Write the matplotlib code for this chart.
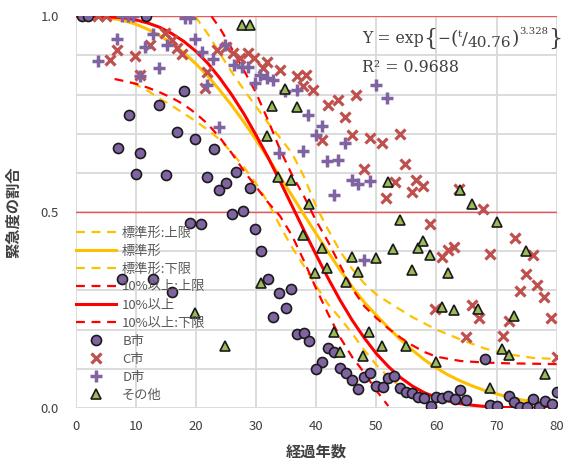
import matplotlib
matplotlib.use("Agg")
import matplotlib.pyplot as plt
from matplotlib.transforms import IdentityTransform

plt.rcParams['font.family'] = ['Noto Sans CJK JP', 'DejaVu Sans']

# ── fitted curves ────────────────────────────────────────────────────────────
red_t = list(range(0, 81, 2))
red_y = [1.000, 1.000, 1.000, 0.998, 0.996, 0.991, 0.983, 0.972, 0.956, 0.936,
         0.911, 0.880, 0.842, 0.799, 0.751, 0.697, 0.640, 0.579, 0.516, 0.453,
         0.391, 0.331, 0.275, 0.224, 0.179, 0.139, 0.106, 0.078, 0.056, 0.039,
         0.027, 0.018, 0.011, 0.007, 0.004, 0.002, 0.001, 0.001, 0.000, 0.000,
         0.000]
red_up_t = [22.6, 24, 26, 28, 30, 32, 34, 36, 38, 40, 42, 44, 46, 48, 50, 52,
            54, 56, 58, 60, 64, 68, 72, 76, 80]
red_up_y = [1.0, 0.97, 0.917, 0.862, 0.805, 0.735, 0.66, 0.595, 0.54, 0.478,
            0.424, 0.364, 0.305, 0.26, 0.23, 0.203, 0.18, 0.16, 0.143, 0.131,
            0.12, 0.116, 0.114, 0.113, 0.112]
red_lo_t = [6.5, 8, 10, 12, 14, 16, 18, 20, 22, 24, 26, 28, 30, 32, 34, 36, 38,
            40, 42, 44, 46, 48, 50, 52]
red_lo_y = [0.84, 0.835, 0.828, 0.818, 0.806, 0.792, 0.775, 0.752, 0.725, 0.69,
            0.65, 0.605, 0.565, 0.525, 0.49, 0.44, 0.375, 0.305, 0.24, 0.18,
            0.13, 0.09, 0.045, 0.005]

yel_t = list(range(0, 81, 2))
yel_y = [1.000, 1.000, 0.998, 0.995, 0.989, 0.980, 0.967, 0.951, 0.931, 0.907,
         0.879, 0.847, 0.811, 0.772, 0.730, 0.685, 0.639, 0.590, 0.542, 0.493,
         0.445, 0.398, 0.352, 0.309, 0.270, 0.237, 0.205, 0.175, 0.148, 0.123,
         0.102, 0.084, 0.069, 0.056, 0.045, 0.036, 0.028, 0.021, 0.016, 0.012,
         0.008]
yel_up_t = [19.9, 22, 24, 26, 28, 30, 32, 34, 36, 38, 40, 42, 44, 46, 48, 50,
            52, 56, 60, 64, 68, 72, 76, 80]
yel_up_y = [1.0, 0.955, 0.905, 0.857, 0.812, 0.77, 0.728, 0.69, 0.65, 0.59,
            0.515, 0.455, 0.40, 0.355, 0.318, 0.29, 0.27, 0.232, 0.20, 0.175,
            0.152, 0.137, 0.128, 0.125]
yel_lo_t = [9.5, 12, 14, 16, 18, 20, 22, 24, 26, 28, 30, 32, 34, 36, 38, 40,
            42, 44, 46, 48, 50, 52, 54, 56, 58, 60]
yel_lo_y = [0.83, 0.81, 0.79, 0.772, 0.752, 0.732, 0.71, 0.685, 0.652, 0.615,
            0.573, 0.525, 0.465, 0.41, 0.362, 0.312, 0.265, 0.229, 0.19, 0.148,
            0.11, 0.08, 0.055, 0.035, 0.018, 0.005]

# ── observed points ──────────────────────────────────────────────────────────
b_t = [1.0, 2.0, 11.8, 18.0, 13.8, 8.85, 16.9, 19.9, 7.0, 10.8, 23.0, 10.0,
       15.0, 21.8, 26.7, 25.0, 23.9, 29.0, 19.0, 20.9, 26.0, 27.8, 29.8, 30.8,
       32.0, 33.9, 35.8, 35.0, 32.9, 36.9, 38.0, 38.9, 7.8, 12.9, 16.0, 41.9,
       42.9, 41.0, 40.0, 44.0, 44.9, 46.0, 46.9, 48.0, 49.0, 49.9, 51.1, 51.9,
       52.9, 54.0, 54.9, 55.9, 57.0, 58.0, 59.1, 60.0, 61.0, 62.0, 63.1, 63.9,
       65.0, 68.1, 68.9, 70.0, 72.1, 72.9, 73.9, 75.0, 76.0, 77.1, 78.1, 79.2,
       80.0]
b_y = [1.0, 1.0, 1.0, 0.81, 0.774, 0.749, 0.704, 0.686, 0.663, 0.651, 0.662,
       0.598, 0.596, 0.59, 0.603, 0.574, 0.557, 0.561, 0.473, 0.469, 0.495,
       0.504, 0.456, 0.402, 0.329, 0.293, 0.304, 0.255, 0.233, 0.189, 0.191,
       0.171, 0.329, 0.329, 0.297, 0.154, 0.142, 0.118, 0.099, 0.101, 0.089,
       0.071, 0.048, 0.078, 0.089, 0.056, 0.054, 0.077, 0.082, 0.052, 0.042,
       0.038, 0.029, 0.025, 0.004, 0.029, 0.026, 0.031, 0.023, 0.045, 0.021,
       0.125, 0.008, 0.006, 0.031, 0.016, 0.002, 0.002, 0.022, 0.003, 0.017,
       0.009, 0.041]

c_t = [3.8, 5.0, 6.85, 5.7, 9.9, 10.7, 14.9, 16.0, 12.4, 16.8, 17.7, 21.8,
       21.5, 23.5, 25.1, 26.2, 27.3, 28.7, 29.6, 31.8, 31.2, 34.0, 36.8, 38.4,
       37.9, 39.5, 42.0, 43.7, 44.8, 46.7, 40.9, 45.9, 49.0, 50.9, 54.0, 47.9,
       54.8, 53.1, 56.6, 57.8, 55.9, 51.7, 63.7, 67.8, 58.9, 73.1, 68.9, 60.9,
       61.9, 63.0, 76.1, 74.9, 76.8, 73.9, 77.9, 79.1, 59.8, 65.9, 67.0, 72.0,
       71.0, 64.9, 80.0]
c_y = [1.0, 1.0, 0.915, 0.889, 0.898, 0.851, 0.957, 0.94, 0.927, 0.918, 0.905,
       0.859, 0.816, 0.914, 0.922, 0.906, 0.894, 0.906, 0.893, 0.884, 0.868,
       0.864, 0.847, 0.85, 0.821, 0.812, 0.774, 0.787, 0.742, 0.799, 0.683,
       0.697, 0.69, 0.676, 0.70, 0.611, 0.624, 0.578, 0.581, 0.568, 0.552,
       0.537, 0.559, 0.507, 0.469, 0.435, 0.392, 0.386, 0.403, 0.412, 0.391,
       0.341, 0.314, 0.299, 0.284, 0.231, 0.254, 0.262, 0.231, 0.222, 0.184,
       0.18, 0.131]

d_t = [7.7, 8.8, 9.6, 18.2, 19.0, 6.85, 3.8, 12.9, 13.8, 10.7, 11.6, 15.2,
       19.9, 21.0, 22.9, 21.8, 23.8, 24.9, 26.4, 27.6, 28.7, 29.8, 30.7, 31.8,
       32.8, 34.8, 36.8, 38.6, 40.9, 39.9, 33.8, 37.9, 44.8, 41.8, 43.7, 45.9,
       47.0, 49.0, 42.9, 50.0, 51.8, 47.9]
d_y = [1.0, 1.0, 1.0, 0.995, 0.995, 0.943, 0.886, 0.956, 0.867, 0.848, 0.922,
       0.927, 0.943, 0.91, 0.89, 0.825, 0.718, 0.927, 0.876, 0.871, 0.871,
       0.831, 0.851, 0.843, 0.837, 0.809, 0.812, 0.749, 0.72, 0.698, 0.651,
       0.657, 0.677, 0.63, 0.634, 0.583, 0.572, 0.58, 0.545, 0.825, 0.791,
       0.378]

o_t = [27.6, 29.0, 34.8, 32.6, 36.9, 31.9, 33.7, 35.8, 38.8, 52.0, 63.9, 65.9,
       70.0, 54.0, 37.9, 40.9, 41.8, 39.8, 44.9, 45.9, 46.9, 49.9, 52.8, 57.0,
       57.8, 58.9, 55.9, 61.9, 74.9, 30.8, 19.8, 24.9, 42.9, 44.0, 48.8, 50.9,
       47.8, 54.9, 59.9, 60.9, 63.0, 66.9, 72.9, 68.9, 70.9, 72.0, 78.0]
o_y = [0.979, 0.979, 0.815, 0.77, 0.768, 0.694, 0.591, 0.582, 0.522, 0.578,
       0.557, 0.521, 0.475, 0.479, 0.441, 0.409, 0.357, 0.345, 0.321, 0.386,
       0.348, 0.382, 0.407, 0.409, 0.427, 0.391, 0.352, 0.345, 0.401, 0.319,
       0.242, 0.158, 0.194, 0.144, 0.194, 0.158, 0.134, 0.158, 0.118, 0.258,
       0.251, 0.253, 0.236, 0.051, 0.15, 0.136, 0.088]

# equation pieces: (text, font size, baseline shift in px)
eq_pieces = [("Y = exp", 11.3, 0), ("{", 16, -2), ("\u2212", 11, 0),
             ("(", 13.5, -1), ("t", 7.5, 6), ("/", 12.5, -1), ("40.76", 11, -4),
             (")", 13.5, -1), ("3.328", 7.3, 9), ("}", 16, -2)]

YELLOW = "#FFC000"
RED = "#FF0000"
TXT = "#404040"

fig = plt.figure(figsize=(5.66, 4.61), dpi=100)
ax = fig.add_axes([0.1334, 0.115, 0.8502, 0.8496])

# grid
for v in range(0, 81, 10):
    ax.axvline(v, color="#d9d9d9", lw=1.3, zorder=0)
for v in [i / 10 for i in range(0, 11)]:
    ax.axhline(v, color="#d9d9d9", lw=1.3, zorder=0)
ax.axhline(1.0, color="#e8585a", lw=1.0, zorder=1)
ax.axhline(0.5, color="#e8585a", lw=1.0, zorder=1)

dash = (0, (4, 3))
ax.plot(yel_up_t, yel_up_y, color=YELLOW, lw=1.6, ls=dash, label="標準形:上限", zorder=2)
ax.plot(yel_t, yel_y, color=YELLOW, lw=2.2, label="標準形", zorder=2)
ax.plot(yel_lo_t, yel_lo_y, color=YELLOW, lw=1.6, ls=dash, label="標準形:下限", zorder=2)
ax.plot(red_up_t, red_up_y, color=RED, lw=1.6, ls=dash, label="10%以上:上限", zorder=2)
ax.plot(red_t, red_y, color=RED, lw=2.2, label="10%以上", zorder=2)
ax.plot(red_lo_t, red_lo_y, color=RED, lw=1.6, ls=dash, label="10%以上:下限", zorder=2)

ax.plot(b_t, b_y, ls="none", marker="o", ms=7.2, mfc="#8064A2", mec="#1a1a1a",
        mew=1.2, label="B市", zorder=3)
ax.plot(c_t, c_y, ls="none", marker="x", ms=7, mec="#C0504D", mew=2.3,
        label="C市", zorder=3)
ax.plot(d_t, d_y, ls="none", marker="+", ms=8, mec="#8064A2", mew=2.5,
        label="D市", zorder=3)
ax.plot(o_t, o_y, ls="none", marker="^", ms=7.5, mfc="#9BBB59", mec="#1a1a1a",
        mew=1.2, label="その他", zorder=3)

ax.set_xlim(0, 80)
ax.set_ylim(0, 1.0)
ax.set_xticks(range(0, 81, 10))
ax.set_yticks([0.0, 0.5, 1.0])
ax.set_yticklabels(["0.0", "0.5", "1.0"])
ax.tick_params(length=0, labelsize=9.5, colors=TXT)
ax.tick_params(axis="y", pad=12)
ax.tick_params(axis="x", pad=9)
for s in ax.spines.values():
    s.set_visible(False)
ax.set_xlabel("経過年数", fontsize=11, fontweight="bold", color=TXT, labelpad=7)
ax.set_ylabel("緊急度の割合", fontsize=11, fontweight="bold", color=TXT, labelpad=14)

leg = ax.legend(loc="upper left", bbox_to_anchor=(-0.01, 0.477), frameon=False,
                fontsize=9.5, handlelength=3.0, handletextpad=0.5,
                labelspacing=0.38, borderaxespad=0)
for txt in leg.get_texts():
    txt.set_color("#595959")

# ── equation, built piece by piece so the braces can be tall ────────────────
renderer = fig.canvas.get_renderer()
x0, y0 = ax.transData.transform((47.6, 0.931))
xpos = x0
for s, size, dy in eq_pieces:
    t = fig.text(xpos, y0 + dy, s, transform=IdentityTransform(), fontsize=size,
                 family="DejaVu Serif", color=TXT, va="baseline", ha="left")
    xpos = t.get_window_extent(renderer).x1
rx, ry = ax.transData.transform((47.6, 0.859))
fig.text(rx, ry, "R\u00b2 = 0.9688", transform=IdentityTransform(), fontsize=11.4,
         family="DejaVu Serif", color=TXT, va="baseline", ha="left")

fig.savefig("out.png", dpi=100)
